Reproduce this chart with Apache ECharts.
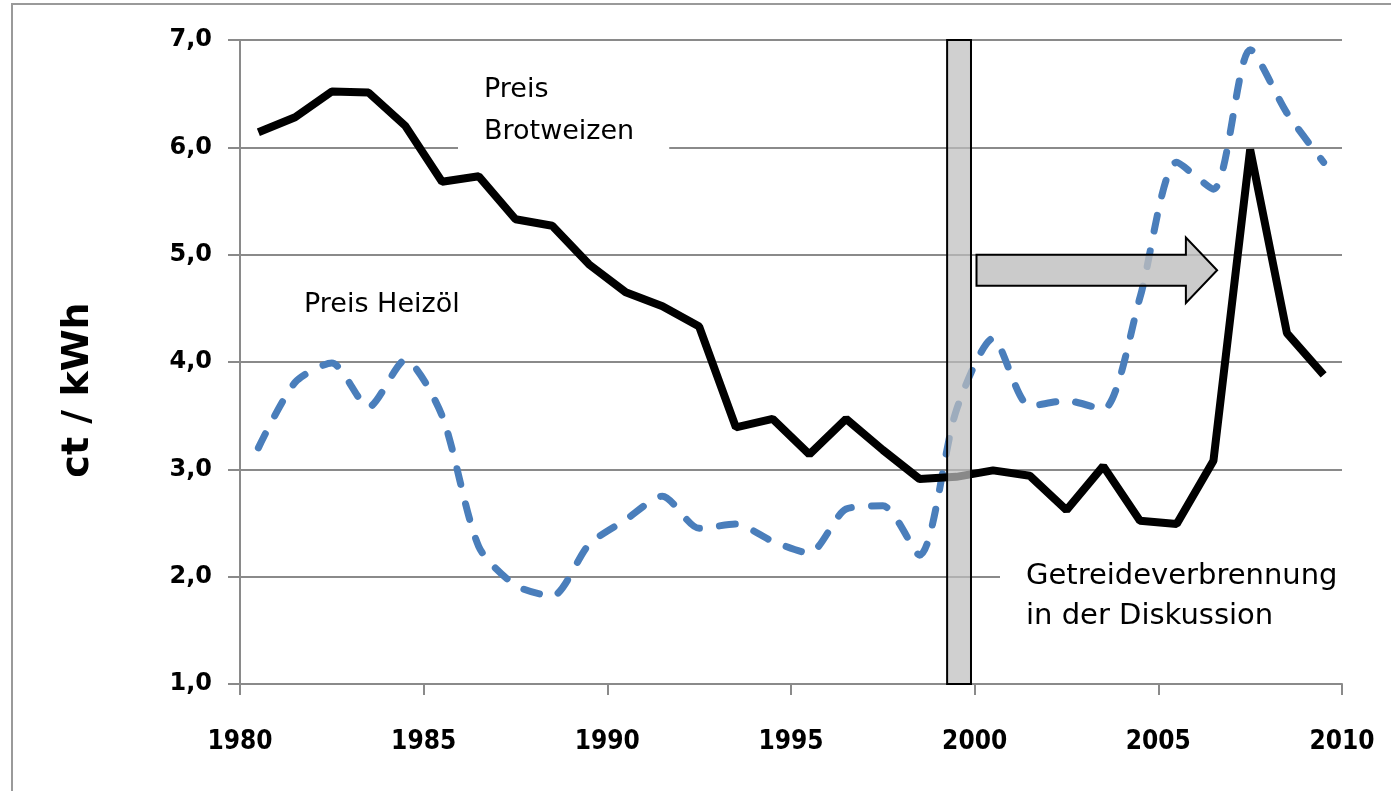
<!DOCTYPE html>
<html>
<head>
<meta charset="utf-8">
<script src="https://cdn.jsdelivr.net/npm/echarts@6/dist/echarts.min.js"></script>
<style>
  html, body { margin: 0; padding: 0; background: #fff; }
  #chart { width: 1391px; height: 791px; }
</style>
</head>
<body>
<div id="chart"></div>
<script>
// Jahresmittel, gezeichnet jeweils in der Jahresmitte
const years = [1980, 1981, 1982, 1983, 1984, 1985, 1986, 1987, 1988, 1989,
  1990, 1991, 1992, 1993, 1994, 1995, 1996, 1997, 1998, 1999,
  2000, 2001, 2002, 2003, 2004, 2005, 2006, 2007, 2008, 2009];
// Preis Brotweizen (ct/kWh)
const brotweizen = [6.14, 6.28, 6.52, 6.51, 6.20, 5.68, 5.73, 5.33, 5.27, 4.91,
  4.65, 4.52, 4.33, 3.39, 3.47, 3.14, 3.47, 3.18, 2.91, 2.93,
  2.99, 2.94, 2.62, 3.03, 2.52, 2.49, 3.08, 5.98, 4.27, 3.88];
// Preis Heizöl (ct/kWh)
const heizoel = [3.20, 3.81, 3.99, 3.58, 4.02, 3.50, 2.28, 1.92, 1.82, 2.30,
  2.53, 2.75, 2.45, 2.49, 2.33, 2.22, 2.63, 2.66, 2.20, 3.55,
  4.22, 3.59, 3.64, 3.56, 4.60, 5.86, 5.61, 6.91, 6.32, 5.86];
const yTicks = [1, 2, 3, 4, 5, 6, 7];

const font = '"DejaVu Sans", "Liberation Sans", sans-serif';
const chart = echarts.init(document.getElementById('chart'));

const option = {
  animation: false,
  backgroundColor: '#fff',
  grid: { left: 240, right: 49, top: 40, bottom: 107 },
  xAxis: {
    type: 'value', min: 1980, max: 2010, interval: 5,
    axisLine: { show: true, lineStyle: { color: '#8a8a8a', width: 2 } },
    axisTick: { show: true, length: 11, lineStyle: { color: '#8a8a8a', width: 2 } },
    splitLine: { show: false },
    axisLabel: {
      margin: 45, color: '#000', fontFamily: '"DejaVu Sans Condensed", ' + font,
      fontWeight: 'bold', fontSize: 26,
      formatter: v => String(v)
    }
  },
  yAxis: {
    type: 'value', min: yTicks[0], max: yTicks[yTicks.length - 1], interval: 1,
    axisLine: { show: true, lineStyle: { color: '#8a8a8a', width: 2 } },
    axisTick: { show: true, length: 12, lineStyle: { color: '#8a8a8a', width: 2 } },
    splitLine: { show: true, lineStyle: { color: '#8a8a8a', width: 2 } },
    axisLabel: {
      margin: 28, color: '#000', fontFamily: font, fontWeight: 'bold', fontSize: 24,
      formatter: v => v.toFixed(1).replace('.', ',')
    }
  },
  series: [
    {
      name: 'Preis Heizöl', type: 'line', smooth: 0.25, symbol: 'none', z: 3,
      lineStyle: { color: '#4a7ebb', width: 7, type: [16, 20], cap: 'round' },
      data: years.map((y, i) => [y + 0.5, heizoel[i]])
    },
    {
      name: 'Preis Brotweizen', type: 'line', symbol: 'none', z: 4,
      lineStyle: { color: '#000', width: 8 },
      data: years.map((y, i) => [y + 0.5, brotweizen[i]])
    }
  ]
};
chart.setOption(option);

// Annotationen in Datenkoordinaten platzieren
const px = (x, y) => chart.convertToPixel({ gridIndex: 0 }, [x, y]);
const barTL = px(1999.25, 7), barBR = px(1999.9, 1);
const arrowPts = [
  [2000.05, 5.0], [2005.75, 5.0], [2005.75, 5.16], [2006.6, 4.855],
  [2005.75, 4.55], [2005.75, 4.71], [2000.05, 4.71]
].map(p => px(p[0], p[1]));

const textStyle = (t, size) => ({
  text: t, font: size + 'px ' + font, fill: '#000', lineHeight: 40,
  backgroundColor: '#fff'
});

chart.setOption({
  graphic: [
    {
      type: 'rect', z: 0, silent: true,
      shape: { x: 12, y: 4, width: 1400, height: 820 },
      style: { fill: 'none', stroke: '#9a9a9a', lineWidth: 2 }
    },
    {
      type: 'text', z: 50, x: 78, y: 390, rotation: Math.PI / 2,
      style: { text: 'ct / kWh', font: 'bold 38px ' + font, fill: '#000', align: 'center', verticalAlign: 'middle' }
    },
    {
      type: 'text', z: 50, x: 458, y: 67,
      style: Object.assign(textStyle('Preis\nBrotweizen', 27), { lineHeight: 42, padding: [2, 35, 8, 26] })
    },
    {
      type: 'text', z: 50, x: 304, y: 285,
      style: Object.assign(textStyle('Preis Heizöl', 27), { padding: 0 })
    },
    {
      type: 'text', z: 50, x: 1000, y: 556,
      style: Object.assign(textStyle('Getreideverbrennung\nin der Diskussion', 29), { padding: [0, 40, 4, 26] })
    },
    {
      type: 'rect', z: 60,
      shape: { x: barTL[0], y: barTL[1], width: barBR[0] - barTL[0], height: barBR[1] - barTL[1] },
      style: { fill: 'rgba(190,190,190,0.72)', stroke: '#000', lineWidth: 2 }
    },
    {
      type: 'polygon', z: 60,
      shape: { points: arrowPts },
      style: { fill: 'rgba(190,190,190,0.8)', stroke: '#000', lineWidth: 2 }
    }
  ]
});
</script>
</body>
</html>
